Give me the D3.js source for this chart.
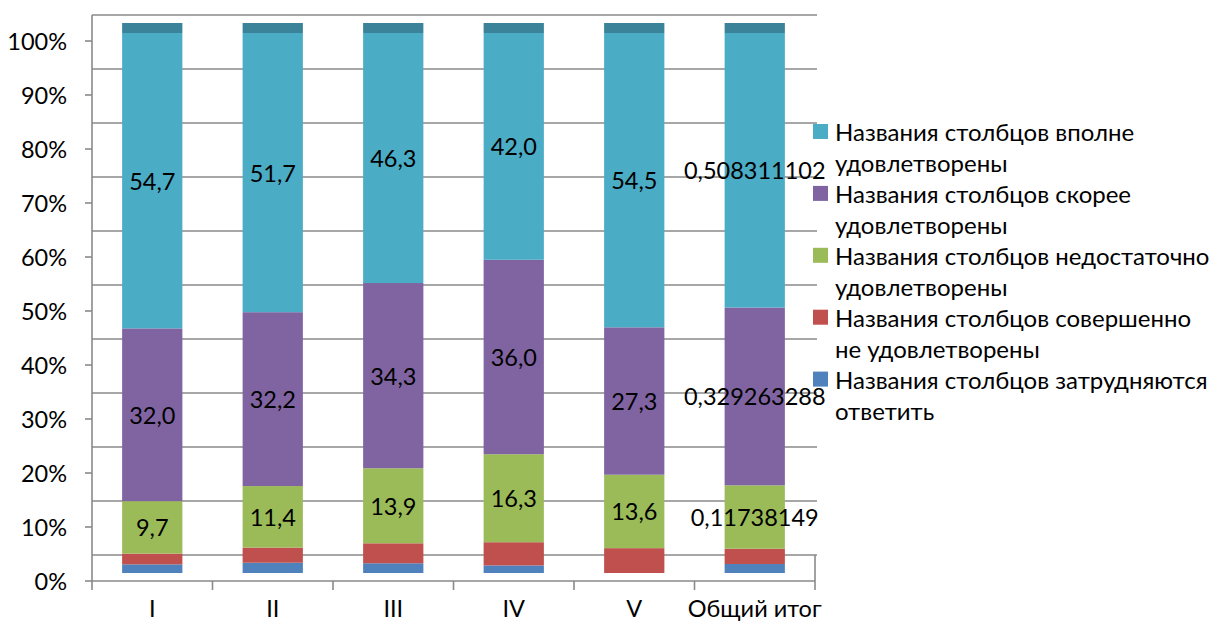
<!DOCTYPE html>
<html><head><meta charset="utf-8">
<script src="https://cdn.jsdelivr.net/npm/d3@7/dist/d3.min.js"></script>
<style>html,body{margin:0;padding:0;background:#fff;}svg{display:block;font-family:Lato,"Open Sans",sans-serif;}</style>
</head><body>
<svg id="chart" width="1216" height="624"></svg>
<script>
const categories = ["I", "II", "III", "IV", "V", "Общий итог"];
const seriesNames = [
  "Названия столбцов затрудняются ответить",
  "Названия столбцов совершенно не удовлетворены",
  "Названия столбцов недостаточно удовлетворены",
  "Названия столбцов скорее удовлетворены",
  "Названия столбцов вполне удовлетворены"
];
const legendLines = [
  ["Названия столбцов вполне", "удовлетворены"],
  ["Названия столбцов скорее", "удовлетворены"],
  ["Названия столбцов недостаточно", "удовлетворены"],
  ["Названия столбцов совершенно", "не удовлетворены"],
  ["Названия столбцов затрудняются", "ответить"]
];
const hard   = [1.6, 1.9, 1.8, 1.4, 0.0, 0.0167];
const never  = [2.0, 2.8, 3.7, 4.3, 4.6, 0.0283];
const notEnough = [9.7, 11.4, 13.9, 16.3, 13.6, 0.11738149];
const rather = [32.0, 32.2, 34.3, 36.0, 27.3, 0.329263288];
const fully  = [54.7, 51.7, 46.3, 42.0, 54.5, 0.508311102];
const labelShown = [false, false, true, true, true];
const yTicks = [0, 0.1, 0.2, 0.3, 0.4, 0.5, 0.6, 0.7, 0.8, 0.9, 1.0];
const colors = ["#4F81BD", "#C0504D", "#9BBB59", "#8064A2", "#4BACC6"];
const capColor = "#3A8398";

const values = [hard, never, notEnough, rather, fully];
const svg = d3.select("#chart");
const FS = 23.5, LFS = 24;

const left = 92, right = 815;
const x = d3.scaleBand().domain(categories).range([left, right]).paddingInner(0.5).paddingOuter(0.25);
const xTick = d3.scaleLinear().domain([0, categories.length]).range([left, right]);
const H = 540;
const base = 581;
const barFront = 8, barBack = 18, wall = 26;
const yAxisS = d3.scaleLinear().domain([0, 1]).range([base, base - H]);
const yAt = (v, off) => yAxisS(v) - off;

svg.append("g").selectAll("line").data(yTicks).join("line")
  .attr("x1", left).attr("x2", right + 2)
  .attr("y1", d => yAt(d, wall)).attr("y2", d => yAt(d, wall))
  .attr("stroke", "#8a8a8a").attr("stroke-width", 1.6);

svg.append("line").attr("x1", left).attr("x2", left).attr("y1", yAt(1, wall)).attr("y2", base)
  .attr("stroke", "#8a8a8a").attr("stroke-width", 1.6);
svg.append("line").attr("x1", right).attr("x2", right).attr("y1", yAt(0, wall)).attr("y2", base)
  .attr("stroke", "#8a8a8a").attr("stroke-width", 1.6);

const table = categories.map((c, i) => {
  const row = {cat: c};
  const tot = d3.sum(values, s => s[i]);
  values.forEach((s, k) => row["s" + k] = s[i] / tot);
  return row;
});
const stackData = d3.stack().keys(values.map((_, k) => "s" + k))(table);

const gBars = svg.append("g");
stackData.forEach((layer, k) => {
  gBars.append("g").selectAll("rect").data(layer).join("rect")
    .attr("x", d => x(d.data.cat)).attr("width", x.bandwidth())
    .attr("y", d => yAt(d[1], barFront))
    .attr("height", d => yAt(d[0], barFront) - yAt(d[1], barFront))
    .attr("fill", colors[k]);
});
const topLayer = stackData[stackData.length - 1];
gBars.append("g").selectAll("rect").data(topLayer).join("rect")
  .attr("x", d => x(d.data.cat)).attr("width", x.bandwidth())
  .attr("y", d => yAt(d[1], barBack)).attr("height", barBack - barFront)
  .attr("fill", capColor);

const fmt = (v, i) => i === categories.length - 1 ? String(v).replace(".", ",") : d3.format(".1f")(v).replace(".", ",");
stackData.forEach((layer, k) => {
  if (!labelShown[k]) return;
  svg.append("g").selectAll("text").data(layer).join("text")
    .attr("x", d => x(d.data.cat) + x.bandwidth() / 2)
    .attr("y", d => (yAt(d[0], barFront) + yAt(d[1], barFront)) / 2)
    .attr("text-anchor", "middle").attr("dominant-baseline", "central")
    .attr("font-size", FS).attr("fill", "#000")
    .text((d, i) => fmt(values[k][i], i));
});

const gy = svg.append("g");
gy.selectAll("line").data(yTicks).join("line")
  .attr("x1", left - 7).attr("x2", left).attr("y1", d => yAxisS(d)).attr("y2", d => yAxisS(d))
  .attr("stroke", "#8a8a8a").attr("stroke-width", 1.6);
gy.selectAll("text").data(yTicks).join("text")
  .attr("x", 67).attr("y", d => yAxisS(d)).attr("text-anchor", "end").attr("dominant-baseline", "central")
  .attr("font-size", FS).text(d => d3.format(".0%")(d));

svg.append("line").attr("x1", left).attr("x2", right).attr("y1", base).attr("y2", base)
  .attr("stroke", "#8a8a8a").attr("stroke-width", 1.6);
svg.append("g").selectAll("line").data(d3.range(categories.length + 1)).join("line")
  .attr("x1", d => xTick(d)).attr("x2", d => xTick(d)).attr("y1", base).attr("y2", base + 9)
  .attr("stroke", "#8a8a8a").attr("stroke-width", 1.6);
svg.append("g").selectAll("text").data(categories).join("text")
  .attr("x", d => x(d) + x.bandwidth() / 2).attr("y", 608)
  .attr("text-anchor", "middle").attr("dominant-baseline", "central")
  .attr("font-size", FS).text(d => d);

const legendColors = colors.slice().reverse();
const lg = svg.append("g");
legendLines.forEach((lines, i) => {
  const cy = 131.5 + i * 61.9;
  lg.append("rect").attr("x", 813).attr("y", cy - 7.5).attr("width", 15).attr("height", 15).attr("fill", legendColors[i]);
  lines.forEach((t, j) => {
    lg.append("text").attr("x", 835).attr("y", cy + j * 31).attr("dominant-baseline", "central")
      .attr("font-size", LFS).text(t);
  });
});
</script>
</body></html>
